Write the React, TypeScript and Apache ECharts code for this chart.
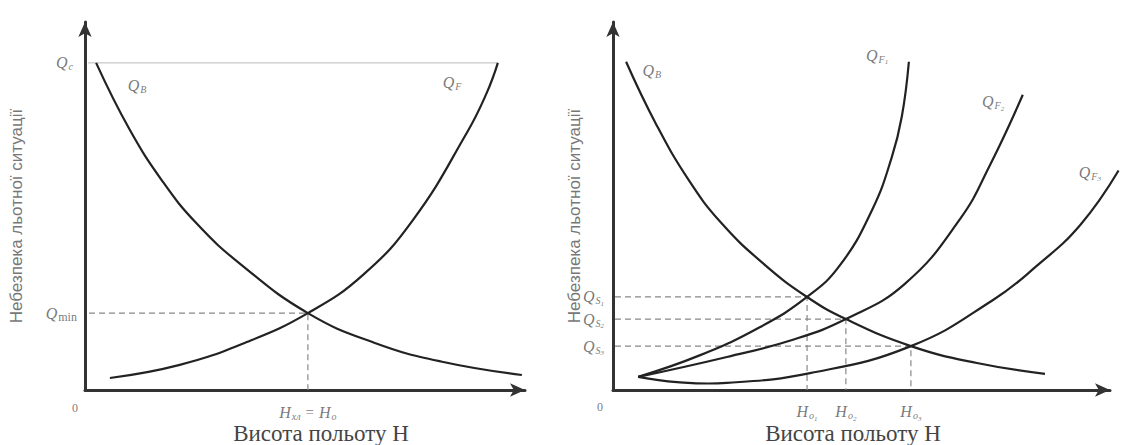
import React, { useEffect, useRef } from "react";
import * as echarts from "echarts";

// ---------- Left panel (units: H 0..100, Q 0..100) ----------
const leftQB = [[2.5, 87.2], [10, 69.5], [17.5, 55.5], [25, 44.5], [35, 33.5], [50.1, 20.5], [65, 12.6], [80, 7.6], [98.2, 4.0]];
const leftQF = [[5.6, 3.2], [21.3, 6.7], [36.4, 12.8], [50.1, 20.5], [62.5, 30.7], [73.7, 45.3], [85.8, 68.5], [90.3, 79.2], [92.8, 87.2]];
const leftQc = [[0.7, 87.2], [92.8, 87.2]];
const leftMin = [50.1, 20.5];

// ---------- Right panel ----------
const rightQB = [[2.6, 87.5], [8.5, 71.0], [15, 56.0], [21.5, 44.5], [30, 33.5], [38.5, 24.8], [46.2, 18.9], [59.1, 11.7], [72.2, 7.2], [85.7, 4.3]];
const rightQF1 = [[5.0, 3.5], [17.3, 9.3], [29.2, 16.8], [38.5, 24.8], [45.0, 33.2], [51.4, 48.0], [55.3, 62.0], [57.3, 72.9], [58.7, 87.5]];
const rightQF2 = [[5.0, 3.5], [22.6, 8.8], [35.7, 13.4], [46.2, 18.9], [57.9, 28.3], [68.8, 45.5], [74.8, 60.0], [81.3, 78.7]];
const rightQF3 = [[5.0, 3.5], [12.7, 2.1], [22.6, 1.9], [39.1, 4.5], [59.1, 11.7], [75.4, 24.0], [84.0, 33.0], [92.7, 44.0], [100.3, 58.5]];
const rightCross = [[38.5, 24.8], [46.2, 18.9], [59.1, 11.7]];

const xTitle = "Висота польоту H";
const yTitle = "Небезпека льотної ситуації";

const INK = "#222";
const GREY = "#555";
const SERIF = "Liberation Serif";

const rich: any = {
  q: { fontFamily: SERIF, fontStyle: "italic", fontSize: 16, color: GREY },
  s: { fontFamily: SERIF, fontStyle: "italic", fontSize: 10, color: GREY, padding: [8, 0, 0, 1] },
  ss: { fontFamily: SERIF, fontStyle: "italic", fontSize: 7, color: GREY, padding: [14, 0, 0, 0] },
  m: { fontFamily: SERIF, fontSize: 12, color: GREY, padding: [8, 0, 0, 1] },
  e: { fontFamily: SERIF, fontSize: 15, color: GREY, padding: [0, 5, 0, 5] },
  z: { fontFamily: SERIF, fontSize: 12, color: GREY },
};

function axisPair(grid: number, xMax: number, yMax: number) {
  const line = {
    show: true,
    symbol: ["none", "arrow"],
    symbolSize: [10, 15],
    lineStyle: { color: "#333", width: 3 },
  };
  return {
    x: {
      type: "value", gridIndex: grid, min: 0, max: xMax,
      axisLine: line, axisTick: { show: false }, axisLabel: { show: false }, splitLine: { show: false },
    },
    y: {
      type: "value", gridIndex: grid, min: 0, max: yMax,
      axisLine: line, axisTick: { show: false }, axisLabel: { show: false }, splitLine: { show: false },
    },
  };
}

// Smooth curve drawn through the data points (positions from the axes' scales)
function curve(idx: number, data: number[][]) {
  return {
    type: "custom", xAxisIndex: idx, yAxisIndex: idx, data, silent: true, z: 3,
    encode: { x: 0, y: 1 },
    renderItem: (params: any, api: any) => {
      if (params.dataIndex !== 0) return null;
      const pts = data.map((p) => api.coord(p));
      return {
        type: "polyline",
        shape: { points: pts, smooth: 0.45 },
        style: { stroke: INK, lineWidth: 2.2, fill: "none" },
      };
    },
  };
}

function dashed(idx: number, data: number[][]) {
  return {
    type: "line", xAxisIndex: idx, yAxisIndex: idx, data, showSymbol: false,
    lineStyle: { color: "#888", width: 1.2, type: [6, 4] }, silent: true, z: 2,
  };
}

function labels(idx: number, items: any[]) {
  return {
    type: "scatter", xAxisIndex: idx, yAxisIndex: idx, symbolSize: 0.1,
    itemStyle: { color: "rgba(0,0,0,0)" }, silent: true, z: 5,
    data: items.map((it) => ({
      value: it.v,
      label: { show: true, formatter: it.t, position: it.p || "inside", distance: it.d ?? 5, offset: it.o || [0, 0], rich },
    })),
  };
}

export default function App() {
  const ref = useRef<HTMLDivElement>(null);
  useEffect(() => {
    if (!ref.current) return;
    const chart = echarts.init(ref.current, undefined, { renderer: "svg" });
    const L = axisPair(0, 98.9, 98.1);
    const R = axisPair(1, 98.6, 98.1);

    const leftLabels = labels(0, [
      { v: [0, 87.2], t: "{q|Q}{s|c}", p: "left", d: 12 },
      { v: [0, leftMin[1]], t: "{q|Q}{m|min}", p: "left", d: 8 },
      { v: [11.7, 81.3], t: "{q|Q}{s|B}" },
      { v: [82.5, 81.9], t: "{q|Q}{s|F}" },
      { v: [0, 0], t: "{z|0}", o: [-10, 18] },
      { v: [leftMin[0], 0], t: "{q|H}{s|хл}{e|=}{q|H}{s|о}", p: "bottom", d: 13 },
    ]);

    const rightLabels = labels(1, [
      { v: [7.7, 85.3], t: "{q|Q}{s|B}" },
      { v: [52.4, 89.3], t: "{q|Q}{s|F}{ss|1}" },
      { v: [75.4, 76.8], t: "{q|Q}{s|F}{ss|2}" },
      { v: [94.6, 58.1], t: "{q|Q}{s|F}{ss|3}" },
      { v: [0, 0], t: "{z|0}", o: [-13, 17] },
      ...rightCross.map((c, i) => ({ v: [0, c[1]], t: `{q|Q}{s|S}{ss|${i + 1}}`, p: "left", d: 9 })),
      ...rightCross.map((c, i) => ({ v: [c[0], 0], t: `{q|H}{s|o}{ss|${i + 1}}`, p: "bottom", d: 11 })),
    ]);

    const titleStyle = { fontSize: 23, fontFamily: SERIF, fill: "#444", align: "center", verticalAlign: "middle" };
    const yStyle = { fontSize: 17, fontFamily: "Liberation Sans", fill: "#777", align: "center", verticalAlign: "middle" };

    chart.setOption({
      animation: false,
      backgroundColor: "#fff",
      grid: [
        { left: 85, top: 22, width: 440, height: 368 },
        { left: 613, top: 22, width: 497, height: 368 },
      ],
      xAxis: [L.x, R.x],
      yAxis: [L.y, R.y],
      series: [
        {
          type: "line", xAxisIndex: 0, yAxisIndex: 0, data: leftQc, showSymbol: false,
          lineStyle: { color: "#bbb", width: 1 }, silent: true, z: 1,
        },
        dashed(0, [[0.9, leftMin[1]], leftMin, [leftMin[0], 0]]),
        curve(0, leftQB),
        curve(0, leftQF),
        leftLabels,
        ...rightCross.map((c) => dashed(1, [[0.4, c[1]], c, [c[0], 0]])),
        curve(1, rightQB),
        curve(1, rightQF1),
        curve(1, rightQF2),
        curve(1, rightQF3),
        rightLabels,
      ],
      graphic: [
        { type: "text", x: 321, y: 433, style: { text: xTitle, ...titleStyle } },
        { type: "text", x: 853, y: 433, style: { text: xTitle, ...titleStyle } },
        { type: "text", x: 16, y: 216, rotation: Math.PI / 2, style: { text: yTitle, ...yStyle } },
        { type: "text", x: 574, y: 216, rotation: Math.PI / 2, style: { text: yTitle, ...yStyle } },
      ],
    });
    return () => chart.dispose();
  }, []);
  return <div ref={ref} style={{ position: "absolute", left: 0, top: 0, width: 1123, height: 445 }} />;
}
